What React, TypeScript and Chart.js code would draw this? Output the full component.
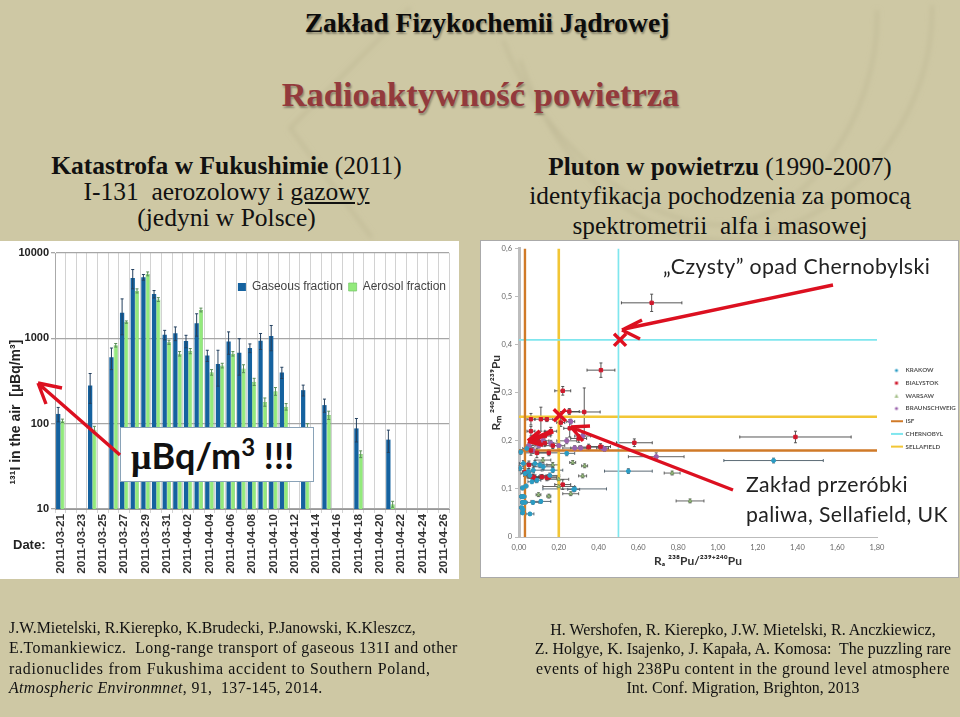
import React, { useEffect, useRef } from "react";
import { Chart, registerables } from "chart.js";
Chart.register(...registerables);

// ---- Left chart data (µBq/m3) ----
const days = [
  "2011-03-21","2011-03-22","2011-03-23","2011-03-24","2011-03-25","2011-03-26","2011-03-27","2011-03-28","2011-03-29","2011-03-30","2011-03-31",
  "2011-04-01","2011-04-02","2011-04-03","2011-04-04","2011-04-05","2011-04-06","2011-04-07","2011-04-08","2011-04-09","2011-04-10",
  "2011-04-11","2011-04-12","2011-04-13","2011-04-14","2011-04-15","2011-04-16","2011-04-17","2011-04-18","2011-04-19","2011-04-20",
  "2011-04-21","2011-04-22","2011-04-23","2011-04-24","2011-04-25","2011-04-26",
];
const gaseous = [130,null,null,280,null,600,2000,5100,5200,3300,1100,1150,930,1500,630,500,920,680,770,940,1065,398,null,247,null,165,null,null,88,null,null,65,null,null,null,null,null];
const aerosol = [108,null,null,85,null,830,1550,3600,5700,2850,900,660,710,2150,400,480,660,443,310,180,240,158,null,92,null,126,null,null,44,null,null,11.4,null,null,null,null,null];
const gaseousErr = [25,null,null,107,null,170,900,1300,400,330,140,210,155,440,95,225,270,310,90,200,350,60,null,36,null,29,null,null,27,null,null,19,null,null,null,null,null];
const aerosolErr = [5,null,null,8,null,40,50,200,300,150,50,40,50,110,30,30,40,47,30,20,25,14,null,8,null,14,null,null,4,null,null,0.9,null,null,null,null,null];
const logTicks = [10,100,1000,10000];

// ---- Right chart data: x, y, x error, y error ----
const krakowX = [0.018,0.035,0.065,0.09,0.013,0.025,0.018,0.03,0.07,0.11,0.013,0.02,0.018,0.055,0.275,0.009,0.039,0.022,0.072,0.122,0.047,0.08,0.155,0.24,0.005,0.03,0.055,0.105,0.17,0.55,1.28,0.28];
const krakowY = [0.102,0.106,0.115,0.118,0.084,0.084,0.072,0.072,0.072,0.074,0.061,0.057,0.05,0.048,0.099,0.177,0.184,0.153,0.139,0.146,0.136,0.153,0.128,0.174,0.143,0.132,0.128,0.15,0.139,0.137,0.159,0.1];
const krakowEX = [0.01,0.01,0.02,0.02,0.01,0.01,0.01,0.01,0.03,0.05,0.01,0.01,0.01,0.02,0.03,0.01,0.02,0.02,0.04,0.05,0.03,0.03,0.05,0.04,0.02,0.02,0.03,0.06,0.05,0.12,0.25,0.16];
const krakowEY = [0.004,0.004,0.004,0.005,0.004,0.004,0.004,0.004,0.004,0.004,0.003,0.003,0.003,0.003,0.005,0.005,0.005,0.006,0.006,0.006,0.006,0.006,0.005,0.005,0.005,0.006,0.006,0.006,0.005,0.005,0.005,0.005];
const bialystokX = [0.667,0.412,0.22,0.253,0.328,0.06,0.11,0.14,0.21,0.255,0.30,0.35,0.41,0.58,1.39,0.22,0.16,0.13,0.06,0.07,0.08,0.10,0.13,0.17,0.06,0.05,0.03,0.075,0.14,0.09,0.15,0.07,0.115,0.15];
const bialystokY = [0.487,0.347,0.304,0.261,0.26,0.245,0.245,0.245,0.238,0.226,0.205,0.187,0.188,0.196,0.208,0.109,0.22,0.21,0.22,0.2,0.2,0.197,0.195,0.19,0.18,0.15,0.135,0.123,0.123,0.175,0.175,0.125,0.125,0.125];
const bialystokEX = [0.152,0.07,0.04,0.05,0.08,0.02,0.03,0.03,0.02,0.03,0.04,0.05,0.05,0.09,0.28,0.04,0.03,0.03,0.02,0.02,0.02,0.03,0.03,0.04,0.02,0.02,0.01,0.03,0.05,0.06,0.05,0.03,0.04,0.05];
const bialystokEY = [0.018,0.015,0.009,0.006,0.05,0.012,0.025,0.005,0.008,0.018,0.008,0.006,0.006,0.008,0.012,0.01,0.008,0.01,0.01,0.01,0.006,0.006,0.006,0.006,0.01,0.008,0.008,0.006,0.006,0.01,0.006,0.005,0.005,0.005];
const warsawX = [0.27,0.33,0.32,0.77,0.86,0.26,0.2,0.15,0.098,0.2,0.12,0.17];
const warsawY = [0.155,0.148,0.127,0.133,0.075,0.09,0.105,0.085,0.088,0.12,0.16,0.15];
const warsawEX = [0.015,0.015,0.02,0.04,0.07,0.04,0.08,0.01,0.012,0.05,0.04,0.03];
const warsawEY = [0.004,0.004,0.004,0.004,0.004,0.004,0.005,0.004,0.004,0.005,0.005,0.005];
const braunX = [0.26,0.32,0.28,0.31,0.43,0.42,0.2,0.07,0.09,0.12,0.69,0.1,0.05,0.16,0.24];
const braunY = [0.24,0.21,0.185,0.185,0.183,0.185,0.19,0.18,0.21,0.2,0.167,0.19,0.19,0.195,0.2];
const braunEX = [0.02,0.04,0.06,0.05,0.02,0.03,0.03,0.02,0.02,0.03,0.14,0.02,0.01,0.04,0.05];
const braunEY = [0.005,0.006,0.005,0.005,0.005,0.005,0.006,0.006,0.006,0.006,0.008,0.005,0.005,0.006,0.006];
const isfAX = 0.03, isfAY = 0.18;
const chernAX = 0.5, chernAY = 0.41;
const sellaAX = 0.2, sellaAY = 0.25;
const markX = [0.508, 0.205];
const markY = [0.41, 0.253];

const zip = (xs: number[], ys: number[]) => xs.map((x, i) => ({ x, y: ys[i] }));
const cross = (x: number, y: number) => [{ x, y: 0 }, { x, y: 0.6 }, { x: NaN, y: NaN }, { x: 0, y }, { x: 1.8, y }];

const barErrors = {
  id: "barErrors",
  afterDatasetsDraw(c: any) {
    const ctx = c.ctx, y = c.scales.y;
    c.data.datasets.forEach((ds: any, di: number) => {
      const meta = c.getDatasetMeta(di);
      ctx.save();
      ctx.strokeStyle = ds.errColor;
      ctx.lineWidth = 1;
      ds.err.forEach((e: number | null, i: number) => {
        const v = ds.data[i];
        if (e == null || v == null) return;
        const px = meta.data[i].x;
        const t = y.getPixelForValue(v + e), b = y.getPixelForValue(Math.max(v - e, 10));
        ctx.beginPath();
        ctx.moveTo(px, t); ctx.lineTo(px, b);
        ctx.moveTo(px - 1.5, t); ctx.lineTo(px + 1.5, t);
        ctx.moveTo(px - 1.5, b); ctx.lineTo(px + 1.5, b);
        ctx.stroke();
      });
      ctx.restore();
    });
  },
};

const xyErrors = {
  id: "xyErrors",
  beforeDatasetsDraw(c: any) {
    const ctx = c.ctx, sx = c.scales.x, sy = c.scales.y;
    c.data.datasets.forEach((ds: any) => {
      if (!ds.ex) return;
      ctx.save();
      ctx.strokeStyle = ds.errColor;
      ctx.lineWidth = 0.9;
      ds.data.forEach((p: any, i: number) => {
        const x = sx.getPixelForValue(p.x), y = sy.getPixelForValue(p.y);
        const x0 = sx.getPixelForValue(Math.max(p.x - ds.ex[i], 0)), x1 = sx.getPixelForValue(p.x + ds.ex[i]);
        const y0 = sy.getPixelForValue(p.y - ds.ey[i]), y1 = sy.getPixelForValue(p.y + ds.ey[i]);
        ctx.beginPath();
        ctx.moveTo(x0, y); ctx.lineTo(x1, y);
        ctx.moveTo(x0, y - 1.5); ctx.lineTo(x0, y + 1.5);
        ctx.moveTo(x1, y - 1.5); ctx.lineTo(x1, y + 1.5);
        ctx.moveTo(x, y0); ctx.lineTo(x, y1);
        ctx.moveTo(x - 1.5, y0); ctx.lineTo(x + 1.5, y0);
        ctx.moveTo(x - 1.5, y1); ctx.lineTo(x + 1.5, y1);
        ctx.stroke();
      });
      ctx.restore();
    });
  },
};

const nudgeLegend = (left: number, top: number, right: number, height: number) => ({
  id: "nudgeLegend",
  afterLayout(c: any) {
    c.legend.left = left;
    c.legend.right = right;
    c.legend.top = top;
    c.legend.bottom = top + height;
  },
});

// legend icon: a 12px line for reference lines, a small mark for sites
const legendIcon = (ds: any) => {
  const cv = document.createElement("canvas");
  cv.width = 12; cv.height = 6;
  const g = cv.getContext("2d")!;
  g.fillStyle = ds.backgroundColor;
  if (ds.showLine) g.fillRect(0, 2, 12, 2);
  else if (ds.pointStyle === "rect") g.fillRect(4.5, 1.5, 3, 3);
  else if (ds.pointStyle === "triangle") { g.beginPath(); g.moveTo(6, 1); g.lineTo(8, 5); g.lineTo(4, 5); g.fill(); }
  else { g.beginPath(); g.arc(6, 3, 1.6, 0, 7); g.fill(); }
  return cv;
};

const serif = '"Liberation Serif", serif';
const sans = "Lato, sans-serif";

const T = ({ x, y, w, align, size, bold, color, font, shadow, spacing, children }: any) => (
  <div style={{
    position: "absolute", left: x, top: y, width: w, textAlign: align || "left", whiteSpace: "pre",
    fontSize: size, fontWeight: bold ? 700 : 400, color: color || "#111", fontFamily: font || serif,
    textShadow: shadow, letterSpacing: spacing, lineHeight: 1,
  }}>{children}</div>
);

export default function App() {
  const leftRef = useRef<HTMLCanvasElement>(null);
  const rightRef = useRef<HTMLCanvasElement>(null);

  useEffect(() => {
    const left = new Chart(leftRef.current!, {
      type: "bar",
      data: {
        labels: days,
        datasets: [
          { label: "Gaseous fraction", data: gaseous, backgroundColor: "#15629f", borderWidth: 0, err: gaseousErr, errColor: "#24405f" } as any,
          { label: "Aerosol fraction", data: aerosol, backgroundColor: "#93ea7c", borderColor: "#74c465", borderWidth: 0.7, err: aerosolErr, errColor: "#5b8f58" } as any,
        ],
      },
      options: {
        responsive: false,
        animation: false,
        layout: { padding: { left: 0, top: -16, right: 7, bottom: 0 } },
        datasets: { bar: { categoryPercentage: 0.8, barPercentage: 1 } },
        plugins: {
          legend: {
            position: "top", align: "end",
            labels: { boxWidth: 8, boxHeight: 8, padding: 6, color: "#444", font: { family: "Liberation Sans", size: 12 } },
          },
          tooltip: { enabled: false },
        },
        scales: {
          x: {
            afterFit: (a: any) => { a.height = 70; },
            grid: { offset: true, color: "#d2d2d2", lineWidth: 1, tickLength: 4, drawTicks: true },
            border: { color: "#999" },
            ticks: {
              autoSkip: false, minRotation: 90, maxRotation: 90, padding: 1, color: "#333",
              font: { family: "Liberation Sans", size: 11.8, weight: "bold" },
              callback(this: any, v: any, i: number) { return i % 2 === 0 ? days[i] : ""; },
            },
          },
          y: {
            type: "logarithmic", min: 10, max: 10000,
            afterFit: (a: any) => { a.width = 55; },
            afterBuildTicks: (a: any) => { a.ticks = logTicks.map((value) => ({ value })); },
            grid: { color: "#a6a6a6", lineWidth: 1.3, tickLength: 4 },
            border: { color: "#aaa" },
            ticks: { color: "#222", padding: 2, font: { family: "Liberation Sans", size: 11, weight: "bold" }, callback: (v: any) => String(v) },
            title: { display: true, text: "\u00B9\u00B3\u00B9I in the air  [\u00B5Bq/m\u00B3]" + "\u00A0".repeat(16), color: "#222", padding: { top: 8, bottom: 0 }, font: { family: "Liberation Sans", size: 14, weight: "bold" } },
          },
        },
      },
      plugins: [barErrors, nudgeLegend(150, 34, 452, 24)],
    } as any);

    const right = new Chart(rightRef.current!, {
      type: "scatter",
      data: {
        datasets: [
          { label: "marks", data: zip(markX, markY), pointStyle: "crossRot", pointRadius: 8.5, borderColor: "#e01020", borderWidth: 3.5, backgroundColor: "transparent" } as any,
          { label: "KRAKOW", data: zip(krakowX, krakowY), pointStyle: "circle", pointRadius: 2, backgroundColor: "#2a9cc4", borderColor: "#2a9cc4", ex: krakowEX, ey: krakowEY, errColor: "#4a5a66" } as any,
          { label: "BIALYSTOK", data: zip(bialystokX, bialystokY), pointStyle: "rect", pointRadius: 2.4, backgroundColor: "#d0182c", borderColor: "#d0182c", ex: bialystokEX, ey: bialystokEY, errColor: "#444" } as any,
          { label: "WARSAW", data: zip(warsawX, warsawY), pointStyle: "triangle", pointRadius: 2.2, backgroundColor: "#a6c08a", borderColor: "#5f8a4a", borderWidth: 0.7, ex: warsawEX, ey: warsawEY, errColor: "#555" } as any,
          { label: "BRAUNSCHWEIG", data: zip(braunX, braunY), pointStyle: "circle", pointRadius: 2.2, backgroundColor: "#9a62ac", borderColor: "#9a62ac", ex: braunEX, ey: braunEY, errColor: "#555" } as any,
          { label: "ISF", data: cross(isfAX, isfAY), showLine: true, pointRadius: 0, borderColor: "#d07a28", backgroundColor: "#d07a28", borderWidth: 2.4, spanGaps: false } as any,
          { label: "CHERNOBYL", data: cross(chernAX, chernAY), showLine: true, pointRadius: 0, borderColor: "#7fe6ee", backgroundColor: "#7fe6ee", borderWidth: 1.7, spanGaps: false } as any,
          { label: "SELLAFIELD", data: cross(sellaAX, sellaAY), showLine: true, pointRadius: 0, borderColor: "#f2c635", backgroundColor: "#f2c635", borderWidth: 2.6, spanGaps: false } as any,
        ],
      },
      options: {
        responsive: false,
        animation: false,
        layout: { autoPadding: false, padding: { left: 0, top: 7, right: 0, bottom: 0 } },
        plugins: {
          legend: {
            position: "right",
            maxWidth: 81,
            labels: {
              usePointStyle: true, pointStyleWidth: 12, boxHeight: 5, padding: 6.5, color: "#555",
              font: { family: "Lato", size: 6.2, weight: "bold" },
              filter: (it: any) => it.text !== "marks",
              generateLabels: (c: any) => (Chart as any).defaults.plugins.legend.labels.generateLabels(c).map((it: any) => ({
                ...it, pointStyle: legendIcon(c.data.datasets[it.datasetIndex]),
              })),
            },
          },
          tooltip: { enabled: false },
        },
        scales: {
          x: {
            type: "linear", min: 0, max: 1.8,
            afterFit: (a: any) => { a.height = 40; },
            grid: { display: false, tickLength: 4 },
            border: { color: "#bbb", width: 1 },
            ticks: { stepSize: 0.2, color: "#666", padding: 2, font: { family: "Lato", size: 7.5 }, callback: (v: any) => Number(v).toFixed(2).replace(".", ",") },
            title: { display: true, text: "R\u2090 \u00B2\u00B3\u2078Pu/\u00B2\u00B3\u2079\u207A\u00B2\u2074\u2070Pu", color: "#333", padding: { top: 2, bottom: 9 }, font: { family: "Lato", size: 12, weight: "bold" } },
          },
          y: {
            type: "linear", min: 0, max: 0.6,
            afterFit: (a: any) => { a.width = 38; },
            grid: { drawOnChartArea: false, tickLength: 4, color: "#bbb" },
            border: { color: "#bdbdbd", width: 3 },
            ticks: { stepSize: 0.1, color: "#666", padding: 3, font: { family: "Lato", size: 7.5 }, callback: (v: any) => (Number(v) === 0 ? "0" : Number(v).toFixed(1).replace(".", ",")) },
            title: { display: true, text: "R\u2098 \u00B2\u2074\u2070Pu/\u00B2\u00B3\u2079Pu", color: "#333", padding: { top: 8, bottom: 0 }, font: { family: "Lato", size: 12, weight: "bold" } },
          },
        },
      },
      plugins: [xyErrors, nudgeLegend(403, 97.5, 477, 140)],
    } as any);

    return () => { left.destroy(); right.destroy(); };
  }, []);

  return (
    <div style={{ position: "fixed", inset: 0, width: 960, height: 717, background: "#cec8a4", overflow: "hidden" }}>
      {/* slide decoration */}
      <svg width={960} height={717} style={{ position: "absolute", left: 0, top: 0 }}>
        <defs><filter id="soft"><feGaussianBlur stdDeviation="2.5" /></filter></defs>
        <g fill="none" stroke="#c0ba96" strokeWidth={2.5} filter="url(#soft)">
          <path d="M410 8 L290 128 L372 238" />
          <path d="M503 40 C540 140 640 225 720 225 C800 225 880 120 877 10" />
          <path d="M520 60 C560 180 650 240 720 240 C830 240 935 130 932 5" />
        </g>
      </svg>

      <T x={0} y={9} w={974} align="center" size={27.5} bold color="#0c0c0c" shadow="1px 2px 2px rgba(0,0,0,.35)">Zakład Fizykochemii Jądrowej</T>
      <T x={0} y={77} w={961} align="center" size={34.5} bold color="#933a3c" shadow="1px 2px 2px rgba(0,0,0,.35)">Radioaktywność powietrza</T>

      <T x={0} y={153} w={453} align="center" size={25.5}><b>Katastrofa w Fukushimie</b> (2011)</T>
      <T x={0} y={179} w={453} align="center" size={25.5}>I-131  aerozolowy i <u>gazowy</u></T>
      <T x={0} y={205} w={453} align="center" size={25.5}>(jedyni w Polsce)</T>

      <T x={480} y={154} w={480} align="center" size={25.3}><b>Pluton w powietrzu</b> (1990-2007)</T>
      <T x={480} y={183} w={480} align="center" size={25.3}>identyfikacja pochodzenia za pomocą</T>
      <T x={480} y={213} w={480} align="center" size={25.3}>spektrometrii  alfa i masowej</T>

      <div style={{ position: "absolute", left: 0, top: 241, width: 459, height: 338, background: "#fff" }}>
        <canvas ref={leftRef} width={459} height={338} style={{ display: "block", filter: "blur(0.45px)" }} />
      </div>
      <div style={{ position: "absolute", left: 481, top: 241, width: 477, height: 336, background: "#fff", boxShadow: "0 0 0 1px #aaa" }}>
        <canvas ref={rightRef} width={477} height={336} style={{ display: "block", filter: "blur(0.45px)" }} />
      </div>

      <T x={13} y={538} size={13} bold font='"Liberation Sans", sans-serif' color="#222">Date:</T>

      <div style={{ position: "absolute", left: 120, top: 427, width: 194, height: 55, background: "#fff", border: "1px solid #8aa3b8", boxSizing: "border-box" }}>
        <T x={10} y={9} size={36} bold font={sans} color="#111"><span style={{ fontFamily: serif }}>μ</span>Bq/m<sup style={{ fontSize: 24, lineHeight: 0 }}>3</sup> !!!</T>
      </div>

      <T x={663} y={256} size={21.3} font={sans} color="#222" spacing={0.4}>„Czysty” opad Chernobylski</T>
      <T x={746} y={474} size={21.2} font={sans} color="#222" spacing={0.4}>Zakład przeróbki</T>
      <T x={746} y={504} size={21.2} font={sans} color="#222" spacing={0.4}>paliwa, Sellafield, UK</T>

      <svg width={960} height={717} style={{ position: "absolute", left: 0, top: 0, pointerEvents: "none" }}>
        <g fill="none" stroke="#dc1020" strokeWidth={3.4}>
          <path d="M120 455 L40 385 M38 383 L62 388 M38 383 L46 404" />
          <path d="M833 285 L624 329 M622 330 L642 320 M622 330 L640 339" />
          <path d="M733 490 L573 428 M571 427 L590 426 M571 427 L583 441" />
          <path d="M553 431 L530 441" strokeWidth={5} />
          <path d="M528 441 L540 431 M528 441 L543 445" strokeWidth={4} />
        </g>
      </svg>

      <T x={9} y={620} size={15.9}>J.W.Mietelski, R.Kierepko, K.Brudecki, P.Janowski, K.Kleszcz,</T>
      <T x={9} y={640} size={15.9} spacing={0.43}>E.Tomankiewicz.  Long-range transport of gaseous 131I and other</T>
      <T x={9} y={661} size={15.9} spacing={0.7}>radionuclides from Fukushima accident to Southern Poland,</T>
      <T x={9} y={680} size={15.9} spacing={0.35}><i>Atmospheric Environmnet</i>, 91,  137-145, 2014.</T>

      <T x={530} y={622} w={426} align="center" size={15.9}>H. Wershofen, R. Kierepko, J.W. Mietelski, R. Anczkiewicz,</T>
      <T x={530} y={641} w={426} align="center" size={15.9}>Z. Holgye, K. Isajenko, J. Kapała, A. Komosa:  The puzzling rare</T>
      <T x={530} y={661} w={426} align="center" size={15.9} spacing={0.47}>events of high 238Pu content in the ground level atmosphere</T>
      <T x={530} y={680} w={426} align="center" size={15.9}>Int. Conf. Migration, Brighton, 2013</T>
    </div>
  );
}
